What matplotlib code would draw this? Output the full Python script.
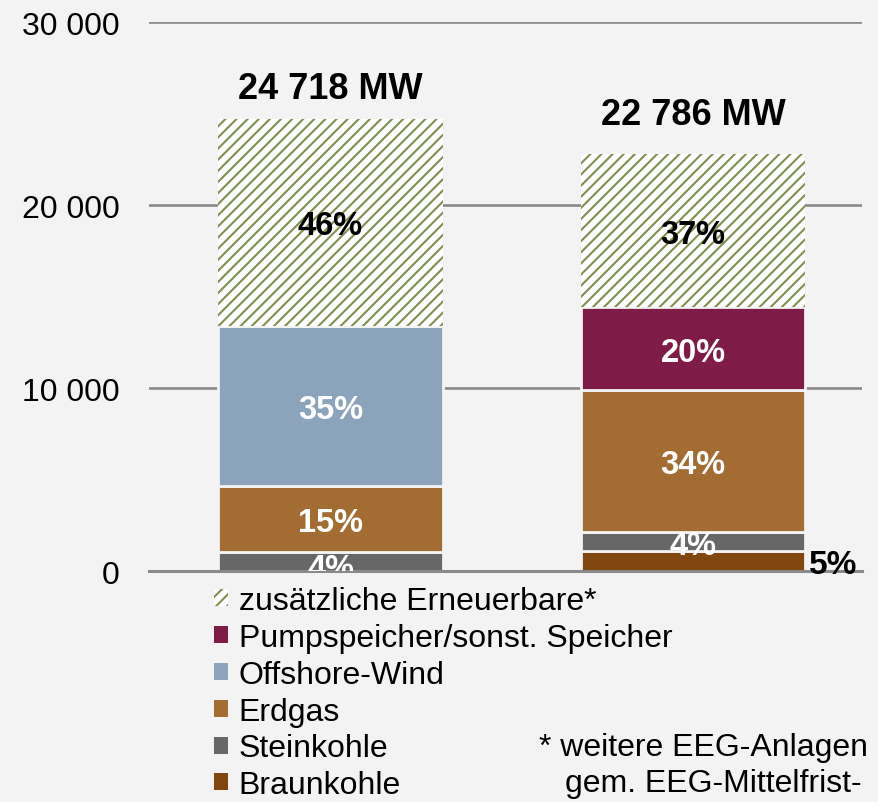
import matplotlib
matplotlib.use("Agg")
import matplotlib.pyplot as plt
from matplotlib.patches import Patch
from matplotlib.ticker import FuncFormatter
import numpy as np

plt.rcParams['font.family'] = ['Liberation Sans', 'DejaVu Sans']
plt.rcParams['hatch.linewidth'] = 1.5

# ---- data ----
bars = ["A", "B"]
braunkohle = [0, 1110]
steinkohle = [1040, 1020]
erdgas = [3640, 7750]
offshore = [8740, 0]
pumpspeicher = [0, 4546]
erneuerbare = [11298, 8360]
totals_lbl = ["24 718 MW", "22 786 MW"]
total_offsets_px = [34, 44]

series_names = ["Braunkohle", "Steinkohle", "Erdgas", "Offshore-Wind",
                "Pumpspeicher/sonst. Speicher", "zusätzliche Erneuerbare*"]
series_vals = [braunkohle, steinkohle, erdgas, offshore, pumpspeicher, erneuerbare]
series_cols = ["#824710", "#676767", "#a36c33", "#8ca3bc", "#7e1c47", "#ffffff"]
pct_labels = [
    [None, "5%"],
    ["4%", "4%"],
    ["15%", "34%"],
    ["35%", None],
    [None, "20%"],
    ["46%", "37%"],
]
hatch_col = "#7f9050"
bg = "#f3f3f3"

fig = plt.figure(figsize=(8.79, 8.03), dpi=100, facecolor=bg)
ax = fig.add_axes([149/879, 1-572.3/803, (862-149)/879, (572.3-23.3)/803])
ax.set_facecolor(bg)

x = np.arange(len(bars))
width = 0.62
bottom = np.zeros(len(bars))
for name, vals, col, labs in zip(series_names, series_vals, series_cols, pct_labels):
    vals = np.array(vals, dtype=float)
    if name.startswith("zus"):
        ax.bar(x, vals, width, bottom=bottom, color="white", edgecolor=hatch_col,
               hatch="///", linewidth=0, zorder=2)
    else:
        ax.bar(x, vals, width, bottom=bottom, color=col, edgecolor=bg,
               linewidth=2, zorder=2)
    for i, lab in enumerate(labs):
        if lab is None:
            continue
        yc = bottom[i] + vals[i] / 2
        if name == "Braunkohle":
            ax.text(x[i] + width/2 + 0.01, yc, lab, ha="left", va="center_baseline",
                    fontsize=24, fontweight="bold", color="black", zorder=4,
                    clip_on=False)
        else:
            colr = "black" if name.startswith("zus") else "white"
            if name == "Steinkohle" and i == 0:
                yc = yc - 200
            ax.text(x[i], yc, lab, ha="center", va="center_baseline", fontsize=23.5,
                    fontweight="bold", color=colr, zorder=4, clip_on=True)
    bottom += vals

for i, (tot, lab, off) in enumerate(zip(bottom, totals_lbl, total_offsets_px)):
    ax.annotate(lab, (x[i], tot), xytext=(0, off * 72 / 100), textcoords="offset points",
                ha="center", va="center_baseline", fontsize=26, fontweight="bold",
                color="black")

ax.set_ylim(0, 30000)
ax.set_xlim(-0.5007, 1.466)
ax.set_yticks([0, 10000, 20000, 30000])
ax.yaxis.set_major_formatter(FuncFormatter(lambda v, p: f"{int(v):,}".replace(",", " ")))
ax.tick_params(axis="y", length=0, pad=21, labelsize=23)
ax.set_xticks([])
ax.grid(axis="y", color="#8a8a8a", linewidth=1.9, zorder=0)
ax.set_axisbelow(True)
for s in ["top", "right", "left"]:
    ax.spines[s].set_visible(False)
ax.spines["bottom"].set_color("#8a8a8a")
ax.spines["bottom"].set_linewidth(2.2)
ax.spines["bottom"].set_zorder(3)

# legend (reverse order)
handles = []
for name, col in zip(series_names[::-1], series_cols[::-1]):
    if name.startswith("zus"):
        handles.append(Patch(facecolor="white", edgecolor=hatch_col, hatch="///",
                             linewidth=0, label=name))
    else:
        handles.append(Patch(facecolor=col, edgecolor="none", label=name))
leg = fig.legend(handles=handles, loc="upper left",
                 bbox_to_anchor=(214/879, 1-587/803), frameon=False,
                 fontsize=23, handlelength=0.44, handleheight=0.44,
                 handletextpad=0.33, labelspacing=0.215, borderpad=0,
                 borderaxespad=0)

fig.text(868/879, 1-745/803, "* weitere EEG-Anlagen", ha="right", va="center_baseline",
         fontsize=23, color="black")
fig.text(862/879, 1-781/803, "gem. EEG-Mittelfrist-", ha="right", va="center_baseline",
         fontsize=23, color="black")

fig.savefig("out.png", dpi=100, facecolor=bg)
